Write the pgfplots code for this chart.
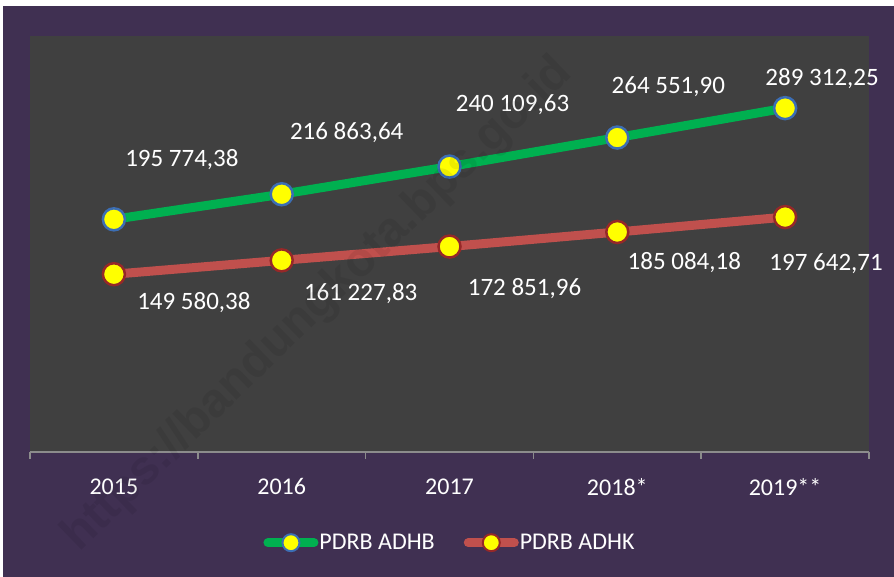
\documentclass[border=0pt]{standalone}
\usepackage{pgfplots}
\pgfplotsset{compat=1.18}
\usepackage{fontspec}
\setmainfont{Carlito}
\newfontfamily\wmfont{Liberation Sans}
\definecolor{bgpurple}{RGB}{64,48,82}
\definecolor{plotgray}{RGB}{64,64,64}
\definecolor{lgreen}{RGB}{0,176,80}
\definecolor{lred}{RGB}{192,80,77}
\definecolor{mblue}{RGB}{60,110,180}
\definecolor{mred}{RGB}{150,40,40}
\definecolor{axgray}{RGB}{140,140,140}
\definecolor{myellow}{RGB}{255,255,0}
\tikzset{lbl/.style={text=white, font=\fontsize{25bp}{29bp}\selectfont, anchor=center}}
\begin{document}
\begin{tikzpicture}
\fill[white] (0bp,0bp) rectangle (894bp,577bp);
\useasboundingbox (0bp,0bp) rectangle (894bp,577bp);
\fill[bgpurple] (3bp,0bp) rectangle (894bp,571bp);
\begin{axis}[
  at={(30bp,125bp)}, anchor=south west,
  scale only axis, width=839bp, height=416bp,
  xmin=-0.5, xmax=4.5, ymin=0, ymax=350000,
  axis y line=none, axis x line*=bottom,
  axis background/.style={fill=plotgray},
  x axis line style={draw=axgray, line width=1.5bp},
  xtick={0,1,2,3,4}, xticklabels={2015,2016,2017,2018*,2019**},
  major tick length=0pt,
  extra x ticks={-0.5,0.5,1.5,2.5,3.5,4.5}, extra x tick labels={},
  extra x tick style={major tick length=7bp, tick align=outside,
    tick style={draw=axgray, line width=1.5bp}},
  xticklabel style={font=\fontsize{24bp}{28bp}\selectfont, text=white, yshift=-23bp},
  clip=false,
  legend columns=2,
  legend style={at={(axis description cs:0.5,-0.218)}, anchor=center,
    draw=none, fill=none, text=white,
    font=\fontsize{24bp}{28bp}\selectfont,
    /tikz/every even column/.append style={column sep=28bp},
    nodes={inner sep=1bp}},
]
\addplot[lgreen, line width=9bp, mark=*, mark size=11bp,
  mark options={fill=myellow, draw=mblue, line width=2.5bp},
  legend image code/.code={
    \draw[lgreen, line width=9bp, line cap=round] (4.5bp,0bp) -- (50.5bp,0bp);
    \filldraw[fill=myellow, draw=mblue, line width=2bp] (27.5bp,0bp) circle (8.5bp);
  }]
  coordinates {(0,195774.38) (1,216863.64) (2,240109.63) (3,264551.90) (4,289312.25)};
\addlegendentry{PDRB ADHB}
\addplot[lred, line width=9bp, mark=*, mark size=11bp,
  mark options={fill=myellow, draw=mred, line width=2.5bp},
  legend image code/.code={
    \draw[lred, line width=9bp, line cap=round] (4.5bp,0bp) -- (50.5bp,0bp);
    \filldraw[fill=myellow, draw=mred, line width=2bp] (27.5bp,0bp) circle (8.5bp);
  }]
  coordinates {(0,149580.38) (1,161227.83) (2,172851.96) (3,185084.18) (4,197642.71)};
\addlegendentry{PDRB ADHK}
\node[lbl, xshift=68bp, yshift=60bp] at (axis cs:0,195774.38) {195 774,38};
\node[lbl, xshift=65bp, yshift=62bp] at (axis cs:1,216863.64) {216 863,64};
\node[lbl, xshift=63bp, yshift=62bp] at (axis cs:2,240109.63) {240 109,63};
\node[lbl, xshift=51bp, yshift=51bp] at (axis cs:3,264551.90) {264 551,90};
\node[lbl, xshift=37bp, yshift=30bp] at (axis cs:4,289312.25) {289 312,25};
\node[lbl, xshift=80bp, yshift=-28bp] at (axis cs:0,149580.38) {149 580,38};
\node[lbl, xshift=79bp, yshift=-33bp] at (axis cs:1,161227.83) {161 227,83};
\node[lbl, xshift=75bp, yshift=-42bp] at (axis cs:2,172851.96) {172 851,96};
\node[lbl, xshift=67bp, yshift=-31bp] at (axis cs:3,185084.18) {185 084,18};
\node[lbl, xshift=41bp, yshift=-47bp] at (axis cs:4,197642.71) {197 642,71};
\end{axis}
\begin{scope}
\clip (3bp,0bp) rectangle (894bp,571bp);
\node[rotate=44, text=black, opacity=0.07, font=\wmfont\bfseries\fontsize{48bp}{52bp}\selectfont]
  at (318bp,272bp) {https://bandungkota.bps.go.id};
\end{scope}
\end{tikzpicture}
\end{document}
